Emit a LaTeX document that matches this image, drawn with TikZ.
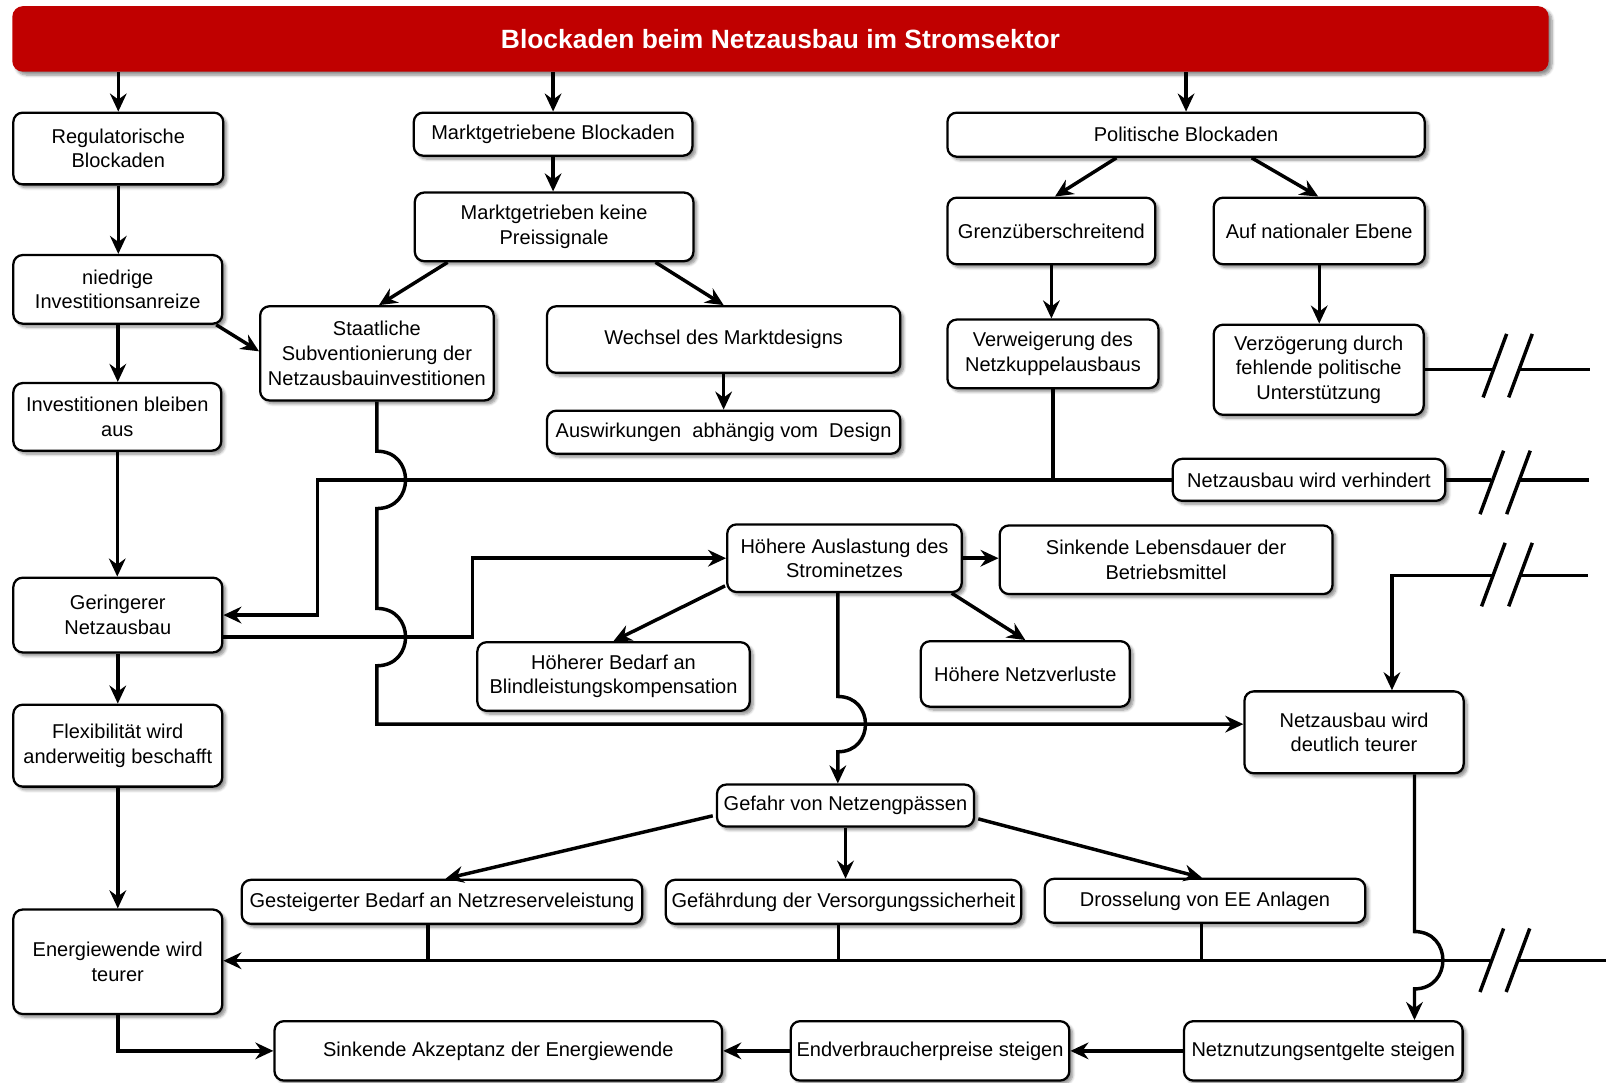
\documentclass[tikz,border=0pt]{standalone}
\usepackage{fontspec}
\setmainfont{Liberation Sans}
\usetikzlibrary{arrows.meta,shadows.blur}
\definecolor{tred}{RGB}{192,0,0}
\newcommand\bx[6]{\node[box, minimum width={(#4-#2)*0.768pt}, minimum height={(#5-#3)*0.768pt}] (#1) at ({(#2+#4)/2},{(#3+#5)/2}) {#6};}
\newcommand\slashpair[3]{\draw[ln] ({#1-11.5},{#3+31}) -- ({#1+11.5},{#3-31}); \draw[ln] ({#2-11.5},{#3+31}) -- ({#2+11.5},{#3-31});}
\begin{document}
\begin{tikzpicture}[x=0.768pt,y=-0.768pt,
  box/.style={draw=black, line width=1.7pt, rounded corners=7pt, fill=white, align=center, inner sep=1pt,
    font=\fontsize{15}{18.4}\selectfont,
    blur shadow={shadow xshift=2.5pt, shadow yshift=-2.5pt, shadow blur steps=6, shadow opacity=45}},
  titlebox/.style={fill=tred, rounded corners=8pt, text=white, align=center,
    font=\bfseries\fontsize{19.8}{22}\selectfont,
    blur shadow={shadow xshift=2.5pt, shadow yshift=-2.5pt, shadow blur steps=6, shadow opacity=45}},
  ln/.style={line width=2.6pt},
  arr/.style={ln, -{Stealth[length=13.5pt,width=12.5pt,inset=4.5pt]}},
]
\useasboundingbox (0,0) rectangle (1568,1057);

\node[titlebox, minimum width={1500*0.768pt}, minimum height={64*0.768pt}] (T) at (762,38) {Blockaden beim Netzausbau im Stromsektor};

\bx{reg}{13}{110}{218}{180}{Regulatorische\\Blockaden}
\bx{mkt}{404}{110}{676}{152}{Marktgetriebene Blockaden}
\bx{pol}{925}{110}{1391}{153}{Politische Blockaden}
\bx{mkp}{405}{188}{677}{255}{Marktgetrieben keine\\Preissignale}
\bx{gren}{925}{193}{1128}{258}{Grenzüberschreitend}
\bx{nat}{1185}{193}{1391}{258}{Auf nationaler Ebene}
\bx{niedr}{13}{249}{217}{316}{niedrige\\Investitionsanreize}
\bx{staat}{254}{299}{482}{391}{Staatliche\\Subventionierung der\\Netzausbauinvestitionen}
\bx{wech}{534}{299}{879}{364}{Wechsel des Marktdesigns}
\bx{verw}{925}{312}{1131}{379}{Verweigerung des\\Netzkuppelausbaus}
\bx{verz}{1185}{317}{1390}{405}{Verzögerung durch\\fehlende politische\\Unterstützung}
\bx{inv}{13}{374}{216}{440}{Investitionen bleiben\\aus}
\bx{ausw}{534}{401}{879}{443}{Auswirkungen\ \ abhängig vom\ \ Design}
\bx{verh}{1145}{448}{1411}{489}{Netzausbau wird verhindert}
\bx{ausl}{710}{512}{939}{578}{Höhere Auslastung des\\Strominetzes}
\bx{leb}{976}{513}{1301}{580}{Sinkende Lebensdauer der\\Betriebsmittel}
\bx{ger}{13}{564}{217}{637}{Geringerer\\Netzausbau}
\bx{blind}{466}{627}{732}{694}{Höherer Bedarf an\\Blindleistungskompensation}
\bx{verl}{899}{626}{1103}{690}{Höhere Netzverluste}
\bx{teur}{1215}{675}{1429}{755}{Netzausbau wird\\deutlich teurer}
\bx{flex}{13}{688}{217}{768}{Flexibilität wird\\anderweitig beschafft}
\bx{gef}{700}{766}{951}{807}{Gefahr von Netzengpässen}
\bx{gest}{236}{859}{627}{902}{Gesteigerter Bedarf an Netzreserveleistung}
\bx{gefa}{650}{859}{997}{902}{Gefährdung der Versorgungssicherheit}
\bx{dros}{1020}{858}{1333}{901}{Drosselung von EE Anlagen}
\bx{ew}{13}{888}{217}{990}{Energiewende wird\\teurer}
\bx{akz}{268}{997}{705}{1055}{Sinkende Akzeptanz der Energiewende}
\bx{endv}{772}{997}{1044}{1055}{Endverbraucherpreise steigen}
\bx{netzn}{1156}{997}{1428}{1055}{Netznutzungsentgelte steigen}

% top level
\draw[arr] (T.south -| reg.north) -- (reg.north);
\draw[arr] (T.south -| mkt.north) -- (mkt.north);
\draw[arr] (T.south -| pol.north) -- (pol.north);
\draw[arr] (reg.south) -- (reg.south |- niedr.north);
\draw[arr] (mkt.south) -- (mkt.south |- mkp.north);
\draw[arr] ([shift={(-68,0)}]pol.south) -- ([shift={(3.5,0)}]gren.north);
\draw[arr] ([shift={(64,0)}]pol.south) -- ([shift={(-1,0)}]nat.north);
\draw[arr] ([shift={(-104,0)}]mkp.south) -- ([shift={(2,0)}]staat.north);
\draw[arr] ([shift={(99,0)}]mkp.south) -- (wech.north);
\draw[arr] (gren.south) -- (gren.south |- verw.north);
\draw[arr] (nat.south) -- (nat.south |- verz.north);
\draw[arr] (wech.south) -- (wech.south |- ausw.north);
\draw[arr] (niedr.south) -- (niedr.south |- inv.north);
\draw[arr] ([shift={(-7,0)}]niedr.south east) -- ([shift={(0,-2)}]staat.west);
\draw[arr] (inv.south) -- (inv.south |- ger.north);
\draw[arr] (ger.south) -- (ger.south |- flex.north);
\draw[arr] (flex.south) -- (flex.south |- ew.north);

% Netzausbau wird verhindert -> Geringerer Netzausbau
\coordinate (j1) at (310,468.5);
\draw[ln] (verw.south) -- (verw.south |- verh.west);
\draw[arr] (verh.west) -- (j1) -- (j1 |- ger.east) -- (ger.east);

% Geringerer -> Hoehere Auslastung
\coordinate (g1) at (461.5,622);
\draw[arr] (ger.east |- g1) -- (g1) -- (g1 |- ausl.west) -- (ausl.west);

% Hoehere Auslastung
\draw[arr] (ausl.east) -- (ausl.east -| leb.west);
\draw[arr] ([shift={(-1,27)}]ausl.west) -- (blind.north);
\draw[arr] ([shift={(-11,0)}]ausl.south east) -- (verl.north);
\coordinate (a1) at (818,0);
\draw[arr] (ausl.south -| a1) -- (818,680) .. controls (854,680) and (854,734) .. (818,734) -- (a1 |- gef.north);

% Staatliche -> Netzausbau wird deutlich teurer
\coordinate (s1) at (368,707);
\draw[arr] (staat.south) -- (368,440.5) .. controls (405.3,440.5) and (405.3,496.5) .. (368,496.5)
  -- (368,594) .. controls (405.3,594) and (405.3,650) .. (368,650) -- (s1) -- (s1 -| teur.west);

% Gefahr
\draw[arr] ([shift={(-3,10)}]gef.west) -- ([shift={(3.5,0)}]gest.north);
\draw[arr] (gef.south) -- (gef.south |- gefa.north);
\draw[arr] ([shift={(3,13)}]gef.east) -- ([shift={(-3,0)}]dros.north);

% collecting line -> Energiewende wird teurer
\coordinate (k1) at (418,938);
\coordinate (k2) at (818.4,938);
\coordinate (k3) at (1173,938);
\coordinate (c1) at (1455,938);
\draw[ln] (gest.south -| k1) -- (k1);
\draw[ln] (gefa.south -| k2) -- (k2);
\draw[ln] (dros.south -| k3) -- (k3);
\draw[arr] (c1) -- (c1 -| ew.east);
\draw[ln] (1482,938) -- (1568,938);
\slashpair{1456.5}{1482}{937.5}

% teurer -> Netznutzungsentgelte
\coordinate (t1) at (1381,0);
\draw[arr] (teur.south -| t1) -- (1381,909.5) .. controls (1418,909.5) and (1418,965.5) .. (1381,965.5) -- (t1 |- netzn.north);

% bottom row
\draw[arr] (netzn.west) -- (endv.east);
\draw[arr] (endv.west) -- (akz.east);
\draw[arr] (ew.south) -- (ew.south |- akz.west) -- (akz.west);

% breaks on the right
\draw[ln] (verz.east) -- (1458,361);
\draw[ln] (1483,361) -- (1552,361);
\slashpair{1459.5}{1484.5}{357}

\draw[ln] (verh.east) -- (1456,468.5);
\draw[ln] (1482,468.5) -- (1551,468.5);
\slashpair{1456.5}{1482.5}{471}

\coordinate (r3) at (1359,562);
\draw[arr] (1457,562) -- (r3) -- (r3 |- teur.north);
\draw[ln] (1484,562) -- (1550,562);
\slashpair{1458}{1484.5}{561}
\end{tikzpicture}
\end{document}
